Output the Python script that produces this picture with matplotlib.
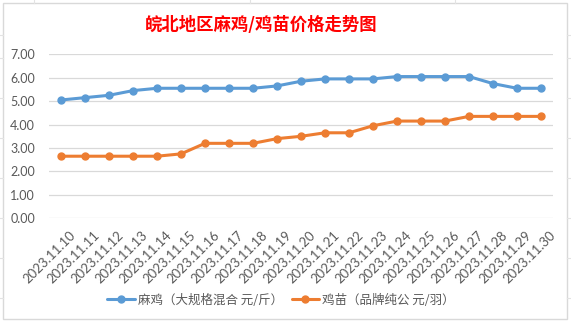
import matplotlib
matplotlib.use("Agg")
import matplotlib.pyplot as plt
import matplotlib.transforms as mtrans
from matplotlib.patches import Rectangle
from matplotlib.lines import Line2D

plt.rcParams['font.family'] = ['Noto Sans CJK SC', 'DejaVu Sans']

# Daily dates and prices
dates = ["2023.11.10", "2023.11.11", "2023.11.12", "2023.11.13", "2023.11.14",
         "2023.11.15", "2023.11.16", "2023.11.17", "2023.11.18", "2023.11.19",
         "2023.11.20", "2023.11.21", "2023.11.22", "2023.11.23", "2023.11.24",
         "2023.11.25", "2023.11.26", "2023.11.27", "2023.11.28", "2023.11.29",
         "2023.11.30"]
mage_price = [5.05, 5.15, 5.25, 5.45, 5.55, 5.55, 5.55, 5.55, 5.55, 5.65,
              5.85, 5.95, 5.95, 5.95, 6.05, 6.05, 6.05, 6.05, 5.75, 5.55, 5.55]
chick_price = [2.65, 2.65, 2.65, 2.65, 2.65, 2.75, 3.2, 3.2, 3.2, 3.4,
               3.5, 3.65, 3.65, 3.95, 4.15, 4.15, 4.15, 4.35, 4.35, 4.35, 4.35]
series_names = ["麻鸡（大规格混合 元/斤）", "鸡苗（品牌纯公 元/羽）"]
yticks = [0, 1, 2, 3, 4, 5, 6, 7]

W, H = 571, 324
fig = plt.figure(figsize=(W / 100, H / 100), dpi=100)
fig.patch.set_facecolor("white")

# spreadsheet cell lines behind the chart
for x in [34, 250, 455]:
    fig.add_artist(Line2D([x / W, x / W], [1 - 3 / H, 1], color="#E3E3E3", lw=0.8))
for y in [35, 58, 98, 138, 178, 218, 258, 298]:
    fig.add_artist(Line2D([0, 3 / W], [1 - y / H, 1 - y / H], color="#E3E3E3", lw=0.8))
    fig.add_artist(Line2D([567 / W, 1], [1 - y / H, 1 - y / H], color="#E3E3E3", lw=0.8))

# chart area border
fig.add_artist(Rectangle((3 / W, 1 - 319 / H), 564 / W, 316 / H,
                         facecolor="white", edgecolor="#D9D9D9", lw=1.0, zorder=-1))

left, right, top, bottom = 49, 553, 54.3, 218.3
ax = fig.add_axes([left / W, 1 - bottom / H, (right - left) / W, (bottom - top) / H])
ax.set_facecolor("none")

xs = list(range(len(dates)))
blue, orange = "#5B9BD5", "#ED7D31"
ax.plot(xs, mage_price, color=blue, lw=2.2, marker="o", ms=5, label=series_names[0],
        solid_capstyle="round", zorder=3)
ax.plot(xs, chick_price, color=orange, lw=2.2, marker="o", ms=5, label=series_names[1],
        solid_capstyle="round", zorder=3)

ax.set_xlim(-0.5, len(dates) - 0.5)
ax.set_ylim(0, 7)
ax.set_yticks(yticks)
ax.set_yticklabels([f"{v:.2f}" for v in yticks], fontsize=9, color="#595959",
                   family=["Lato", "DejaVu Sans"])
ax.grid(axis="y", color="#D9D9D9", lw=0.9)
ax.set_axisbelow(True)
for s in ax.spines.values():
    s.set_visible(False)
ax.tick_params(axis="y", length=0, pad=10)
ax.tick_params(axis="x", length=0, pad=0)

ax.set_xticks(xs)
ax.set_xticklabels(dates, rotation=45, ha="right", va="top", rotation_mode="anchor",
                   fontsize=9.5, color="#595959", family=["Lato", "DejaVu Sans"])
offset = mtrans.ScaledTranslation(8 / 100, -11 / 100, fig.dpi_scale_trans)
for lbl in ax.get_xticklabels():
    lbl.set_transform(lbl.get_transform() + offset)

fig.text(261 / W, 1 - 25 / H, "皖北地区麻鸡/鸡苗价格走势图", ha="center", va="center",
         fontsize=12.5, color="#FF0000", fontweight="bold")

leg = fig.legend(loc="center", bbox_to_anchor=(281 / W, 1 - 300 / H), ncol=2,
                 frameon=False, fontsize=9, handlelength=2.2, columnspacing=0.7,
                 handletextpad=0.25)
for t in leg.get_texts():
    t.set_color("#595959")

fig.savefig("out.png", dpi=100)
